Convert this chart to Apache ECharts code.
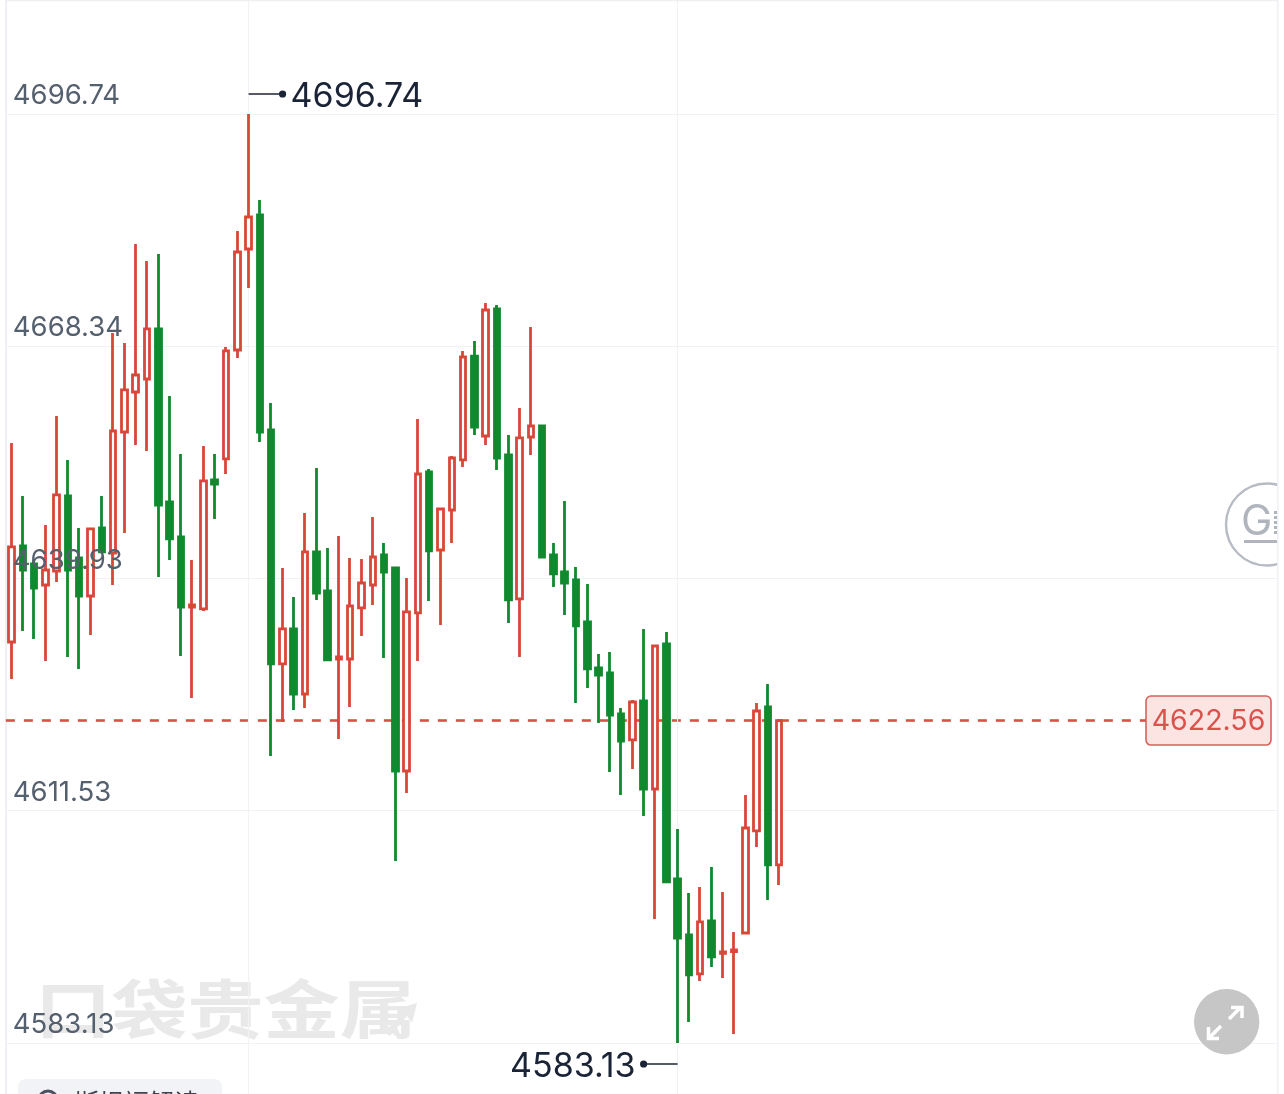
<!DOCTYPE html>
<html>
<head>
<meta charset="utf-8">
<title>K线</title>
<script src="https://cdn.jsdelivr.net/npm/echarts@6/dist/echarts.min.js"></script>
<style>
html,body{margin:0;padding:0;background:#fff;overflow:hidden;}
#main{width:1284px;height:1094px;}
</style>
</head>
<body>
<div id="main"></div>
<script>
var opens = [4632.17,4643.91,4641.71,4639.14,4640.85,4650.02,4642.44,4637.79,4646.11,4643.05,4657.85,4662.74,4664.33,4670.45,4649.29,4645.01,4636.45,4636.21,4651.98,4654.55,4667.88,4680.23,4684.39,4658.10,4629.48,4633.76,4625.81,4643.18,4638.41,4630.09,4630.09,4636.33,4639.14,4642.81,4641.22,4616.39,4635.72,4652.96,4643.42,4648.31,4654.43,4667.14,4657.36,4672.89,4655.04,4637.43,4657.24,4658.58,4642.81,4640.73,4639.75,4634.62,4628.99,4628.38,4623.36,4620.19,4624.95,4614.19,4631.93,4603.19,4596.34,4591.57,4598.05,4594.08,4594.32,4596.58,4609.06,4624.22,4604.90];
var closes = [4643.79,4640.97,4638.77,4640.97,4650.15,4640.97,4637.79,4645.99,4643.18,4657.97,4662.99,4664.82,4670.45,4648.92,4644.77,4636.45,4636.69,4651.86,4651.49,4667.76,4679.86,4684.14,4657.85,4629.48,4633.76,4625.81,4643.18,4638.16,4629.97,4630.34,4636.57,4639.38,4642.56,4640.73,4616.39,4635.84,4652.71,4643.30,4648.43,4654.67,4667.02,4658.46,4672.77,4654.67,4637.31,4657.12,4658.58,4642.56,4640.49,4639.38,4634.13,4628.87,4628.13,4623.24,4620.06,4624.83,4614.19,4631.68,4602.82,4595.97,4591.45,4597.93,4593.65,4594.26,4594.50,4609.42,4623.73,4604.90,4622.56];
var lows = [4627.64,4633.52,4632.54,4629.85,4639.51,4630.34,4628.87,4633.03,4643.18,4639.14,4645.50,4656.26,4655.53,4640.12,4642.20,4630.46,4625.32,4635.96,4647.21,4652.71,4666.90,4675.46,4656.63,4618.23,4622.39,4623.85,4624.10,4637.31,4629.97,4620.31,4624.22,4632.90,4636.69,4630.21,4605.39,4613.70,4629.85,4637.18,4634.25,4644.28,4653.57,4657.48,4656.26,4653.20,4634.49,4630.34,4655.04,4642.56,4638.90,4635.47,4624.71,4626.54,4622.26,4616.27,4613.46,4616.64,4610.89,4598.30,4602.82,4583.13,4585.70,4590.71,4592.43,4591.08,4584.23,4596.58,4607.10,4600.62,4602.45];
var highs = [4656.51,4650.02,4642.20,4646.48,4659.81,4654.43,4646.11,4645.99,4650.02,4669.96,4668.73,4680.84,4678.76,4679.62,4662.25,4655.16,4642.20,4656.14,4655.16,4668.25,4682.43,4696.74,4686.22,4661.40,4641.22,4637.67,4647.95,4653.45,4643.67,4645.13,4642.44,4642.32,4647.46,4644.28,4641.22,4640.00,4659.44,4653.33,4648.43,4654.92,4667.76,4668.98,4673.63,4673.38,4657.48,4660.79,4670.69,4658.71,4644.28,4649.41,4641.34,4639.26,4630.70,4630.95,4624.10,4625.08,4633.76,4631.80,4633.39,4609.30,4601.47,4602.21,4604.65,4601.60,4596.71,4613.46,4624.71,4627.03,4622.75];
var yTicks = [4583.13,4611.53,4639.93,4668.34,4696.74];
var lastPrice = 4622.56;
var slotCount = 113; // 右侧留白的空位也算在内
var vLines = [21, 59];

var slots = [];
for (var i = 0; i < slotCount; i++) slots.push(i);
var candles = [];
for (var j = 0; j < opens.length; j++) candles.push([opens[j], closes[j], lows[j], highs[j]]);

var RED = '#d9473a', GREEN = '#11892e', GRID = '#f1f2f4';
var FONT = 'Inter, "Noto Sans", sans-serif';
var CJK = '"Noto Sans CJK SC", sans-serif';

var chart = echarts.init(document.getElementById('main'), null, {renderer: 'canvas'});

chart.setOption({
    animation: false,
    backgroundColor: '#fff',
    grid: {left: 5.85, top: 0, width: 1275.77, height: 1094},
    xAxis: {
        type: 'category', data: slots, boundaryGap: true,
        axisLine: {show: false}, axisTick: {show: false}, axisLabel: {show: false}, splitLine: {show: false}
    },
    yAxis: [{
        type: 'value', min: 4576.89, max: 4710.68, position: 'left',
        axisLine: {show: true, lineStyle: {color: '#eff0f3', width: 2}},
        axisTick: {show: false, customValues: yTicks},
        axisLabel: {show: false, customValues: yTicks},
        splitLine: {show: true, lineStyle: {color: GRID, width: 1.2}}
    }, {
        type: 'value', min: 4576.89, max: 4710.68, position: 'left', z: 10,
        axisLine: {show: false}, axisTick: {show: false, customValues: yTicks}, splitLine: {show: false},
        axisLabel: {
            inside: true, margin: 7, customValues: yTicks, color: '#55606f', fontFamily: FONT, fontSize: 27.5,
            verticalAlign: 'bottom', padding: [0, 0, 4, 0],
            formatter: function (v) { return v.toFixed(2); }
        }
    }],
    series: [{
        type: 'candlestick', data: candles, barWidth: 6, z: 3,
        itemStyle: {color: '#fff', color0: GREEN, borderColor: RED, borderColor0: GREEN, borderWidth: 2.8},
        markLine: {
            silent: true, symbol: 'none', z: 2, animation: false, label: {show: false},
            data: [
                {yAxis: lastPrice, lineStyle: {color: RED, type: [9, 9], width: 2.6, opacity: 0.95}},
                {xAxis: vLines[0], lineStyle: {color: GRID, type: 'solid', width: 1.2}},
                {xAxis: vLines[1], lineStyle: {color: GRID, type: 'solid', width: 1.2}}
            ]
        }
    }]
});

// 最高最低价标注、水印、右侧按钮
var hiIdx = highs.indexOf(Math.max.apply(null, highs));
var loIdx = lows.indexOf(Math.min.apply(null, lows));
var hiPos = chart.convertToPixel({xAxisIndex: 0, yAxisIndex: 0}, [hiIdx, highs[hiIdx]]);
var loPos = chart.convertToPixel({xAxisIndex: 0, yAxisIndex: 0}, [loIdx, lows[loIdx]]);
var lastY = chart.convertToPixel({yAxisIndex: 0}, lastPrice);
var hiY = hiPos[1] - 20, loY = loPos[1] + 21;

chart.setOption({
    graphic: [
        // 水印
        {type: 'text', z: 0, x: 35, y: 977, scaleX: 1.19, style: {text: '口袋贵金属', fill: '#e9e9e9', font: '700 64px ' + CJK}},
        {type: 'polygon', z: 0, shape: {points: [[384, 1032], [404, 1012], [396, 1009], [417, 1003], [412, 1023], [407, 1016], [390, 1036]]}, style: {fill: '#e9e9e9'}},
        // 右边界外留白
        {type: 'rect', z: 20, shape: {x: 1278, y: 0, width: 6, height: 1094}, style: {fill: '#fff'}},
        {type: 'rect', z: 20, shape: {x: 1271, y: lastY - 3, width: 7, height: 6}, style: {fill: '#fff'}},
        {type: 'rect', z: 21, shape: {x: 1277, y: 0, width: 1.6, height: 1094}, style: {fill: '#eff0f3'}},
        {type: 'rect', z: 21, shape: {x: 6, y: 0, width: 1272, height: 1.2}, style: {fill: '#eff0f3'}},
        // 高点
        {type: 'line', z: 30, shape: {x1: hiPos[0], y1: hiY, x2: hiPos[0] + 34, y2: hiY}, style: {stroke: '#1b2436', lineWidth: 1.6}},
        {type: 'circle', z: 30, shape: {cx: hiPos[0] + 34, cy: hiY, r: 3.6}, style: {fill: '#1b2436'}},
        {type: 'text', z: 30, x: hiPos[0] + 42, y: hiY + 2.5, style: {text: highs[hiIdx].toFixed(2), fill: '#1b2436', font: '34px ' + FONT, textVerticalAlign: 'middle'}},
        // 低点
        {type: 'line', z: 30, shape: {x1: loPos[0], y1: loY, x2: loPos[0] - 34, y2: loY}, style: {stroke: '#1b2436', lineWidth: 1.6}},
        {type: 'circle', z: 30, shape: {cx: loPos[0] - 34, cy: loY, r: 3.6}, style: {fill: '#1b2436'}},
        {type: 'text', z: 30, x: loPos[0] - 42, y: loY + 3, style: {text: lows[loIdx].toFixed(2), fill: '#1b2436', font: '34px ' + FONT, textAlign: 'right', textVerticalAlign: 'middle'}},
        // 现价框
        {type: 'rect', z: 22, shape: {x: 1146, y: lastY - 24.5, width: 125, height: 49, r: 5}, style: {fill: '#fbe4e2', stroke: '#d8615a', lineWidth: 1.6}},
        {type: 'text', z: 23, x: 1208.5, y: lastY + 1, style: {text: lastPrice.toFixed(2), fill: '#d9534c', font: '28.5px ' + FONT, textAlign: 'center', textVerticalAlign: 'middle'}},
        // G 标志
        {type: 'circle', z: 18, shape: {cx: 1267, cy: 524.5, r: 41}, style: {fill: '#fff', stroke: '#b7bcc4', lineWidth: 2.4}},
        {type: 'text', z: 19, x: 1241, y: 522, style: {text: 'G', fill: '#b0b5bd', font: '42px ' + FONT, textVerticalAlign: 'middle'}},
        {type: 'line', z: 19, shape: {x1: 1244, y1: 541.5, x2: 1278, y2: 541.5}, style: {stroke: '#b0b5bd', lineWidth: 3}},
        {type: 'line', z: 19, shape: {x1: 1275.5, y1: 511, x2: 1275.5, y2: 535}, style: {stroke: '#b0b5bd', lineWidth: 3, lineDash: [3, 2]}},
        // 全屏按钮
        {type: 'circle', z: 25, shape: {cx: 1226.7, cy: 1021.7, r: 32.7}, style: {fill: '#c6c6c6'}},
        {type: 'polyline', z: 26, shape: {points: [[1229, 1019], [1241, 1007]]}, style: {stroke: '#fff', lineWidth: 3.5, fill: null}},
        {type: 'polyline', z: 26, shape: {points: [[1231, 1007.5], [1242, 1007.5], [1242, 1018]]}, style: {stroke: '#fff', lineWidth: 3.5, fill: null}},
        {type: 'polyline', z: 26, shape: {points: [[1221, 1026], [1209, 1038]]}, style: {stroke: '#fff', lineWidth: 3.5, fill: null}},
        {type: 'polyline', z: 26, shape: {points: [[1208.5, 1027], [1208.5, 1038.5], [1219, 1038.5]]}, style: {stroke: '#fff', lineWidth: 3.5, fill: null}},
        // 底部被裁掉的按钮
        {type: 'rect', z: 27, shape: {x: 18, y: 1079, width: 204, height: 40, r: 8}, style: {fill: '#f2f3f6'}},
        {type: 'circle', z: 28, shape: {cx: 48, cy: 1100, r: 9}, style: {fill: 'none', stroke: '#4a5260', lineWidth: 3}},
        {type: 'text', z: 28, x: 74, y: 1090, style: {text: '斯坦福解读', fill: '#3c4452', font: '25px ' + CJK}}
    ]
});
</script>
</body>
</html>
